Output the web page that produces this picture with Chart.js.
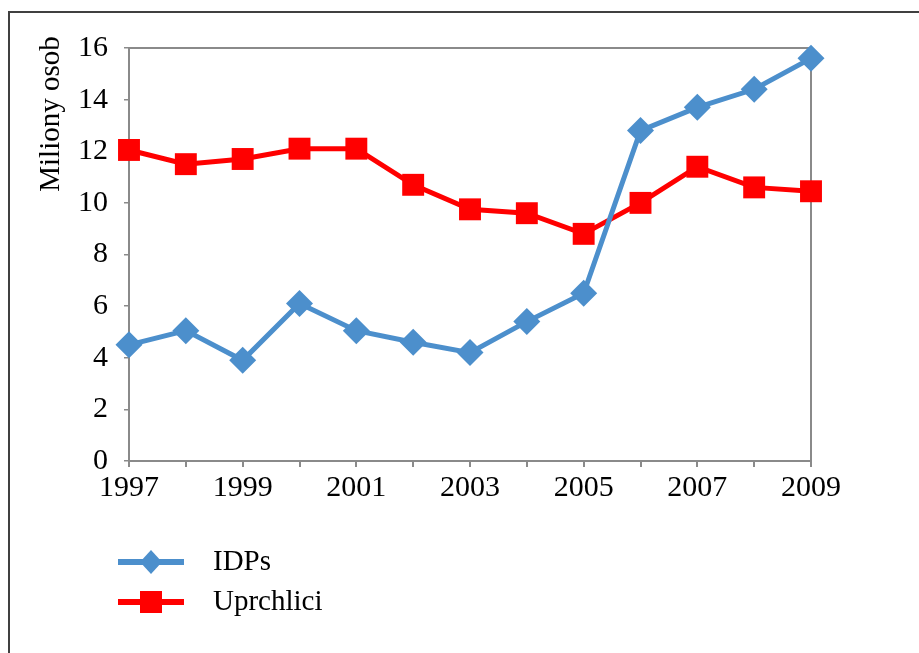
<!DOCTYPE html>
<html>
<head>
<meta charset="utf-8">
<script src="https://cdn.jsdelivr.net/npm/chart.js@4"></script>
<style>
    html, body { margin: 0; padding: 0; background: #fff; overflow: hidden; }
    #wrap { position: relative; width: 919px; height: 653px; }
    #frame {
        position: absolute; left: 8px; top: 11px; width: 1000px; height: 800px;
        border-left: 2px solid #404040; border-top: 2px solid #404040;
        pointer-events: none;
    }
    canvas { position: absolute; left: 0; top: 0; }
</style>
</head>
<body>
<div id="wrap">
    <canvas id="chart" width="919" height="653"></canvas>
    <div id="frame"></div>
</div>
<script>
var years = ['1997', '1998', '1999', '2000', '2001', '2002', '2003', '2004', '2005', '2006', '2007', '2008', '2009'];
var idps = [4.5, 5.05, 3.9, 6.1, 5.05, 4.6, 4.2, 5.4, 6.5, 12.8, 13.7, 14.4, 15.6];
var uprchlici = [12.05, 11.5, 11.7, 12.1, 12.1, 10.7, 9.75, 9.6, 8.8, 10.0, 11.4, 10.6, 10.45];
var yTicks = [0, 2, 4, 6, 8, 10, 12, 14, 16];

var blue = '#4C8FCC';
var red = '#FF0000';
var axisGray = '#8a8a8a';
var serif = '"Liberation Serif", "Times New Roman", serif';

// frame of the plot, rotated y title and the legend with line + marker
var extras = {
    id: 'extras',
    beforeDatasetsDraw: function (chart) {
        var a = chart.chartArea;
        var ctx = chart.ctx;
        ctx.save();
        ctx.strokeStyle = axisGray;
        ctx.lineWidth = 2;
        ctx.strokeRect(a.left, a.top, a.right - a.left, a.bottom - a.top);
        ctx.restore();
    },
    afterDraw: function (chart) {
        var ctx = chart.ctx;
        ctx.save();
        ctx.fillStyle = '#000';
        ctx.font = '29px ' + serif;
        ctx.textAlign = 'center';
        ctx.textBaseline = 'middle';
        ctx.translate(51, 114);
        ctx.rotate(-Math.PI / 2);
        ctx.fillText('Miliony osob', 0, 0);
        ctx.restore();

        var items = [
            { text: 'IDPs', color: blue, y: 562, style: 'diamond' },
            { text: 'Uprchlici', color: red, y: 602, style: 'square' }
        ];
        items.forEach(function (it) {
            ctx.save();
            ctx.strokeStyle = it.color;
            ctx.fillStyle = it.color;
            ctx.lineWidth = 6;
            ctx.beginPath();
            ctx.moveTo(118, it.y);
            ctx.lineTo(184, it.y);
            ctx.stroke();
            ctx.beginPath();
            if (it.style === 'diamond') {
                ctx.moveTo(151 - 11, it.y);
                ctx.lineTo(151, it.y - 12);
                ctx.lineTo(151 + 11, it.y);
                ctx.lineTo(151, it.y + 12);
                ctx.closePath();
            } else {
                ctx.rect(151 - 11, it.y - 11, 22, 22);
            }
            ctx.fill();
            ctx.fillStyle = '#000';
            ctx.font = '29px ' + serif;
            ctx.textAlign = 'left';
            ctx.textBaseline = 'middle';
            ctx.fillText(it.text, 213, it.y);
            ctx.restore();
        });
    }
};

new Chart(document.getElementById('chart'), {
    type: 'line',
    data: {
        labels: years,
        datasets: [
            {
                label: 'IDPs',
                data: idps,
                borderColor: blue,
                backgroundColor: blue,
                borderWidth: 5,
                pointStyle: 'rectRot',
                pointRadius: 13.5,
                pointBorderWidth: 0,
                tension: 0,
                clip: false
            },
            {
                label: 'Uprchlici',
                data: uprchlici,
                borderColor: red,
                backgroundColor: red,
                borderWidth: 5,
                pointStyle: 'rect',
                pointRadius: 15.5,
                pointBorderWidth: 0,
                tension: 0,
                clip: false
            }
        ]
    },
    options: {
        responsive: false,
        animation: false,
        layout: { padding: { top: 48, right: 108, left: 0, bottom: 0 } },
        plugins: {
            legend: { display: false },
            tooltip: { enabled: false }
        },
        scales: {
            x: {
                offset: false,
                afterFit: function (scale) { scale.height = 192; },
                border: { color: axisGray, width: 2 },
                grid: { drawOnChartArea: false, drawTicks: true, tickLength: 6, color: axisGray, lineWidth: 2 },
                ticks: {
                    autoSkip: false,
                    maxRotation: 0,
                    padding: 3,
                    color: '#000',
                    font: { family: serif, size: 30 },
                    callback: function (val, i) { return i % 2 === 0 ? years[i] : ''; }
                }
            },
            y: {
                min: 0,
                max: 16,
                afterFit: function (scale) { scale.width = 129; },
                border: { color: axisGray, width: 2 },
                grid: { drawOnChartArea: false, drawTicks: true, tickLength: 5, color: axisGray, lineWidth: 1.5 },
                ticks: {
                    stepSize: 1,
                    padding: 16,
                    color: '#000',
                    font: { family: serif, size: 30 },
                    callback: function (val) { return yTicks.indexOf(val) >= 0 ? String(val) : ''; }
                }
            }
        }
    },
    plugins: [extras]
});
</script>
</body>
</html>
